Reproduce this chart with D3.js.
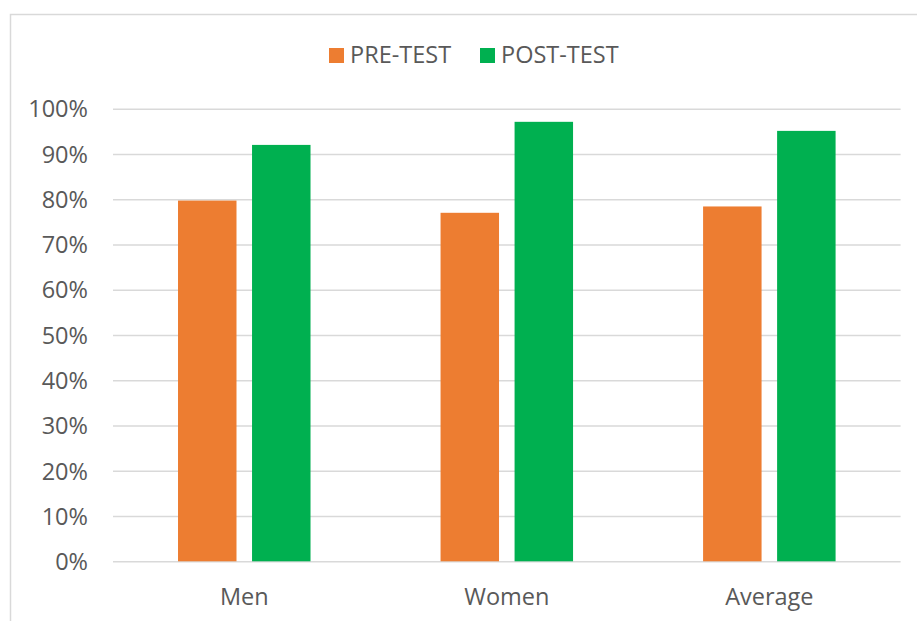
<!DOCTYPE html>
<html>
<head>
<meta charset="utf-8">
<script src="https://cdn.jsdelivr.net/npm/d3@7"></script>
<style>
  html, body { margin: 0; padding: 0; background: #fff; }
  svg { display: block; }
  text { font-family: "Open Sans", sans-serif; fill: #595959; }
</style>
</head>
<body>
<svg id="chart" width="917" height="621"></svg>
<script>
const categories = ["Men", "Women", "Average"];
const seriesNames = ["PRE-TEST", "POST-TEST"];
const preTest = [0.797, 0.770, 0.784];
const postTest = [0.920, 0.971, 0.951];
const yTicks = [0, 0.1, 0.2, 0.3, 0.4, 0.5, 0.6, 0.7, 0.8, 0.9, 1.0];
const colors = ["#ED7D31", "#00B050"];

const svg = d3.select("#chart");
const W = 917, H = 621;

// chart frame
svg.append("rect")
  .attr("x", 10.5).attr("y", 14.5)
  .attr("width", W + 20).attr("height", H + 20)
  .attr("fill", "#fff").attr("stroke", "#d9d9d9").attr("stroke-width", 1.5);

const plot = { left: 113, right: 900.6, top: 108.7, bottom: 561.3 };

const x0 = d3.scaleBand().domain(categories).range([plot.left, plot.right]).paddingInner(0).paddingOuter(0);
const pairWidth = 132.5;
const x1 = d3.scaleBand().domain(seriesNames).range([0, pairWidth]).paddingInner(0.21).paddingOuter(0);
const y = d3.scaleLinear().domain([0, 1]).range([plot.bottom, plot.top]);

// gridlines + y labels via axis
const yAxis = d3.axisLeft(y).tickValues(yTicks).tickFormat(d3.format(".0%"))
  .tickSize(-(plot.right - plot.left)).tickPadding(25);
const gy = svg.append("g").attr("transform", `translate(${plot.left},0)`).call(yAxis);
gy.select(".domain").remove();
gy.selectAll(".tick line").attr("stroke", "#d9d9d9").attr("stroke-width", 1.5);
gy.selectAll(".tick text").attr("font-size", 23.5).attr("fill", "#595959")
  .attr("font-family", "'Open Sans', sans-serif").attr("dy", "0.35em");

// bars
const data = categories.map((c, i) => ({ cat: c, vals: [preTest[i], postTest[i]] }));
const groups = svg.append("g").selectAll("g").data(data).join("g")
  .attr("transform", d => `translate(${x0(d.cat) + (x0.bandwidth() - pairWidth) / 2},0)`);
groups.selectAll("rect").data(d => d.vals.map((v, j) => ({ s: seriesNames[j], v, j })))
  .join("rect")
  .attr("x", d => x1(d.s))
  .attr("y", d => y(d.v))
  .attr("width", x1.bandwidth())
  .attr("height", d => y(0) - y(d.v))
  .attr("fill", d => colors[d.j]);

// x axis labels
const xAxis = d3.axisBottom(x0).tickSize(0).tickPadding(27);
const gx = svg.append("g").attr("transform", `translate(0,${plot.bottom})`).call(xAxis);
gx.select(".domain").remove();
gx.selectAll(".tick text").attr("font-size", 23.5).attr("fill", "#595959")
  .attr("font-family", "'Open Sans', sans-serif");

// legend
const legendX = [329, 480];
const lg = svg.append("g").selectAll("g").data(seriesNames).join("g")
  .attr("transform", (d, i) => `translate(${legendX[i]},48)`);
lg.append("rect").attr("width", 15).attr("height", 15).attr("fill", (d, i) => colors[i]);
lg.append("text").attr("x", 21).attr("y", 6.5).attr("dy", "0.35em")
  .attr("font-size", 23.5).text(d => d);
</script>
</body>
</html>
